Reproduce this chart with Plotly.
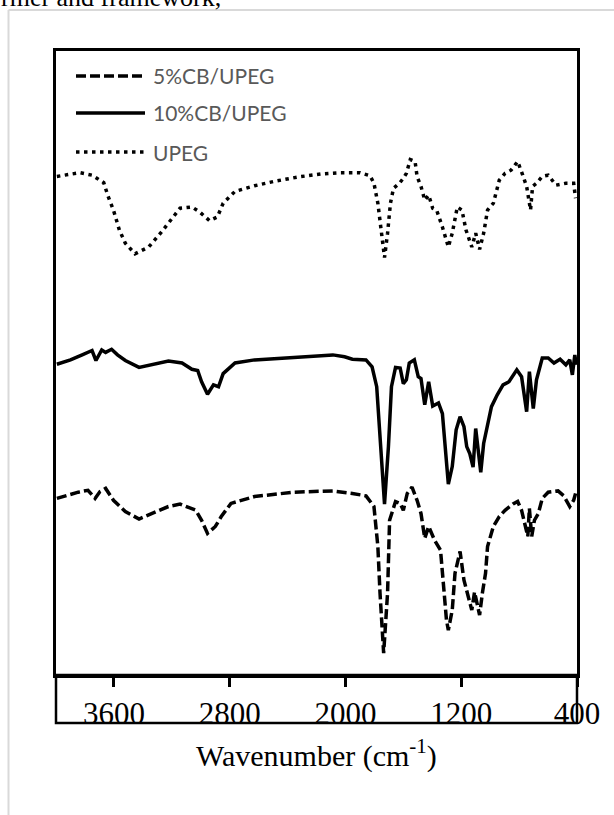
import plotly.graph_objects as go

# ---- data (wavenumber in cm-1, transmittance in arbitrary offset units) ----
upeg_wn = [3994, 3834, 3751, 3670, 3643, 3603, 3562, 3521, 3454, 3359, 3278, 3210, 3143, 3061,
           3007, 2939, 2885, 2845, 2763, 2628, 2494, 2330, 2169, 2033, 1899, 1830, 1803, 1776,
           1749, 1730, 1709, 1689, 1668, 1627, 1600, 1579, 1552, 1519, 1505, 1478, 1452, 1425,
           1397, 1370, 1330, 1289, 1262, 1227, 1195, 1167, 1127, 1100, 1073, 1045, 1018, 978,
           937, 897, 856, 810, 775, 748, 721, 707, 680, 640, 599, 545, 477, 423, 410]
upeg_t = [79.9, 80.5, 80.1, 78.9, 76.9, 74.5, 71.3, 69.2, 67.5, 68.6, 70.8, 72.9, 74.8, 75.0,
          74.2, 72.8, 73.4, 75.6, 77.5, 78.4, 79.1, 79.8, 80.3, 80.5, 80.5, 80.0, 78.8, 75.6,
          70.8, 66.9, 70.8, 75.6, 78.0, 78.8, 79.6, 80.4, 82.6, 82.3, 79.9, 78.3, 76.1, 76.9,
          74.8, 74.5, 71.8, 68.6, 70.8, 75.0, 74.5, 71.3, 68.6, 70.8, 68.2, 70.8, 74.5, 75.6,
          79.3, 80.4, 80.9, 82.3, 80.1, 78.3, 74.5, 78.3, 78.8, 79.9, 80.1, 78.5, 78.8, 78.8, 76.4]

cb10_wn = [3994, 3900, 3819, 3751, 3724, 3684, 3657, 3616, 3575, 3521, 3426, 3332, 3223, 3129,
           3061, 3021, 2994, 2953, 2912, 2877, 2845, 2763, 2628, 2357, 2087, 2006, 1952, 1858,
           1816, 1784, 1757, 1730, 1703, 1682, 1654, 1622, 1600, 1579, 1559, 1524, 1497, 1478,
           1452, 1425, 1397, 1357, 1330, 1308, 1289, 1262, 1235, 1208, 1181, 1162, 1141, 1118,
           1100, 1080, 1065, 1045, 1018, 991, 951, 911, 870, 816, 783, 748, 729, 702, 680, 640,
           599, 559, 517, 477, 450, 432, 415, 405]
cb10_t = [49.8, 50.5, 51.3, 52.0, 50.4, 52.1, 51.7, 52.2, 51.3, 50.4, 49.3, 49.8, 50.3, 50.0,
          49.0, 48.8, 47.0, 45.0, 46.5, 46.2, 48.3, 50.0, 50.5, 50.9, 51.3, 51.0, 50.6, 50.5,
          49.4, 46.2, 36.6, 27.4, 36.6, 46.2, 49.3, 49.2, 46.7, 47.3, 50.0, 50.5, 47.8, 47.5,
          43.3, 47.0, 43.1, 43.6, 41.9, 35.5, 30.6, 33.4, 39.3, 41.4, 39.8, 36.6, 35.5, 33.3,
          39.5, 35.5, 32.5, 37.1, 40.3, 43.0, 44.9, 46.5, 47.0, 48.9, 47.8, 42.2, 48.6, 42.7,
          47.3, 50.8, 50.8, 50.0, 50.6, 49.7, 50.5, 48.1, 51.3, 49.7]

cb5_wn = [3994, 3846, 3779, 3730, 3696, 3657, 3603, 3521, 3426, 3332, 3223, 3143, 3034, 2994,
          2953, 2899, 2858, 2791, 2628, 2357, 2087, 1952, 1858, 1803, 1776, 1761, 1736, 1709,
          1695, 1654, 1622, 1600, 1573, 1540, 1505, 1478, 1452, 1425, 1384, 1343, 1324, 1302,
          1289, 1262, 1243, 1208, 1181, 1153, 1127, 1108, 1092, 1073, 1054, 1032, 1018, 978,
          937, 897, 842, 810, 783, 756, 740, 729, 713, 694, 667, 640, 599, 531, 491, 450, 423, 410]
cb5_t = [28.3, 29.3, 29.6, 28.3, 29.4, 29.9, 28.0, 26.2, 25.0, 25.9, 27.0, 27.4, 26.4, 24.8,
         22.7, 23.8, 25.4, 27.5, 28.6, 29.3, 29.5, 29.1, 28.7, 27.0, 20.6, 13.1, 3.5, 13.1,
         24.8, 27.8, 27.5, 26.4, 29.1, 30.1, 28.0, 25.9, 21.9, 23.8, 21.6, 20.0, 15.2, 8.8,
         7.2, 10.4, 16.3, 19.8, 15.2, 12.5, 10.4, 13.3, 11.5, 9.6, 13.1, 16.3, 20.6, 23.8,
         25.4, 26.4, 27.4, 27.8, 26.4, 23.8, 22.2, 26.7, 22.2, 24.8, 25.9, 28.3, 29.3, 29.5,
         28.7, 27.0, 28.0, 29.1]

x_ticks = [3600, 2800, 2000, 1200, 400]
series_names = ["5%CB/UPEG", "10%CB/UPEG", "UPEG"]

DASH5 = "10px,4px"
DOT = "3.5px,4.5px"
LW = 3.5

fig = go.Figure()
fig.add_trace(go.Scatter(x=cb5_wn, y=cb5_t, mode="lines", name=series_names[0],
                         line=dict(color="black", width=LW, dash=DASH5)))
fig.add_trace(go.Scatter(x=cb10_wn, y=cb10_t, mode="lines", name=series_names[1],
                         line=dict(color="black", width=LW)))
fig.add_trace(go.Scatter(x=upeg_wn, y=upeg_t, mode="lines", name=series_names[2],
                         line=dict(color="black", width=LW, dash=DOT)))

W, H = 614, 815
L, R, T, B = 56, 37, 51, 140
pw, ph = W - L - R, H - T - B


def px(xp):
    return (xp - L) / pw


def py(yp):
    return (H - B - yp) / ph


shapes = []
annotations = []
# manual legend
leg_y = [76, 113, 152]
dashes = [DASH5, "solid", DOT]
for name, yy, d in zip(series_names, leg_y, dashes):
    shapes.append(dict(type="line", xref="paper", yref="paper", x0=px(76), x1=px(145),
                       y0=py(yy), y1=py(yy), line=dict(color="black", width=LW, dash=d)))
    annotations.append(dict(text=name, xref="paper", yref="paper", x=px(151), y=py(yy),
                            xanchor="left", yanchor="middle", showarrow=False,
                            font=dict(family="Lato", size=21, color="#595959")))

# extension of the plot frame below the axis (tick-label band)
shapes.append(dict(type="rect", xref="paper", yref="paper", x0=0, x1=1, y0=py(723), y1=0,
                   line=dict(color="black", width=2.5), fillcolor="rgba(0,0,0,0)"))
# page frame (gray)
shapes.append(dict(type="line", xref="paper", yref="paper", x0=px(8.5), x1=px(8.5),
                   y0=py(10), y1=py(830), line=dict(color="#d9d9d9", width=2)))
shapes.append(dict(type="line", xref="paper", yref="paper", x0=px(8.5), x1=px(640),
                   y0=py(10), y1=py(10), line=dict(color="#d9d9d9", width=2)))

annotations.append(dict(text="Wavenumber (cm<sup>-1</sup>)", xref="paper", yref="paper",
                        x=0.5, y=py(753), xanchor="center", yanchor="middle", showarrow=False,
                        font=dict(family="Liberation Serif", size=30, color="black")))
annotations.append(dict(text="rmer and framework,", xref="paper", yref="paper",
                        x=px(-1), y=py(-3), xanchor="left", yanchor="middle", showarrow=False,
                        font=dict(family="Liberation Serif", size=26, color="black")))

fig.update_layout(
    width=W, height=H,
    margin=dict(l=L, r=R, t=T, b=B, pad=0),
    paper_bgcolor="white", plot_bgcolor="white",
    showlegend=False,
    shapes=shapes, annotations=annotations,
    xaxis=dict(range=[4000, 400], tickvals=x_ticks, ticktext=[str(v) for v in x_ticks],
               showgrid=False, zeroline=False, showline=True, mirror=True,
               linecolor="black", linewidth=2.5, ticks="outside", ticklen=9, tickwidth=2.5,
               tickcolor="black",
               tickfont=dict(family="Liberation Serif", size=31, color="black")),
    yaxis=dict(range=[0, 100], showgrid=False, zeroline=False, showline=True, mirror=True,
               linecolor="black", linewidth=2.5, showticklabels=False, ticks=""),
)

fig.write_html("out.html", config={"displayModeBar": False},
               post_script="document.body.style.margin='0px';document.body.style.padding='0px';")
